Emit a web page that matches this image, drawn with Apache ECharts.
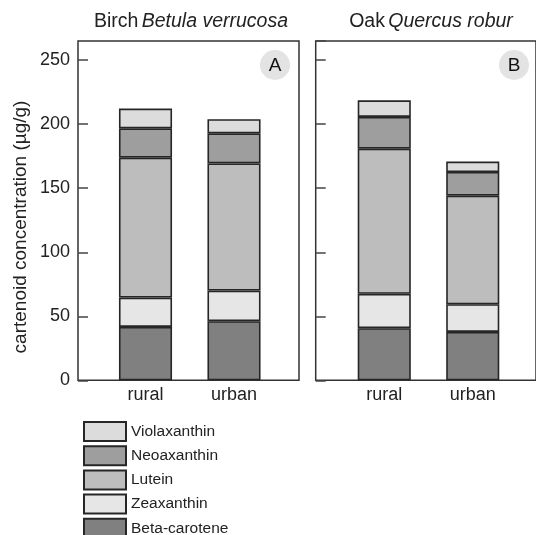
<!DOCTYPE html>
<html>
<head>
<meta charset="utf-8">
<script src="https://cdn.jsdelivr.net/npm/echarts@6/dist/echarts.min.js"></script>
<style>
  html, body { margin: 0; padding: 0; background: #fff; }
  #chart { width: 536px; height: 535px; }
</style>
</head>
<body>
<div id="chart"></div>
<script>
  // categories + values (µg/g)
  var categories = ['rural', 'urban'];
  var pigments = ['Beta-carotene', 'Zeaxanthin', 'Lutein', 'Neoaxanthin', 'Violaxanthin'];
  var legendOrder = ['Violaxanthin', 'Neoaxanthin', 'Lutein', 'Zeaxanthin', 'Beta-carotene'];

  // panel A - birch
  var betaA = [41.7, 46.2];
  var zeaA = [22.9, 23.9];
  var luteinA = [109.3, 99.3];
  var neoA = [22.9, 23.5];
  var violaA = [15.4, 11.0];
  // panel B - oak
  var betaB = [40.7, 37.8];
  var zeaB = [26.8, 21.6];
  var luteinB = [113.4, 84.8];
  var neoB = [24.8, 18.5];
  var violaB = [13.0, 8.1];

  var yMin = 0, yMax = 265, yStep = 50;

  var colors = {
    'Beta-carotene': '#808080',
    'Zeaxanthin': '#e6e6e6',
    'Lutein': '#bdbdbd',
    'Neoaxanthin': '#9e9e9e',
    'Violaxanthin': '#dcdcdc'
  };

  var font = '"Liberation Sans", Arial, sans-serif';
  var chart = echarts.init(document.getElementById('chart'));

  var plotTop = 41, plotH = 339.3;

  function frameY(idx, withLabels) {
    return {
      gridIndex: idx, type: 'value', min: yMin, max: yMax, interval: yStep,
      axisLine: { show: false },
      splitLine: { show: false },
      axisTick: { show: true, inside: true, length: 10, lineStyle: { color: '#444', width: 1.5 } },
      axisLabel: {
        show: withLabels, showMaxLabel: false, margin: 8,
        fontFamily: font, fontSize: 18, color: '#222'
      }
    };
  }
  function barY(idx) {
    return { gridIndex: idx, type: 'value', min: yMin, max: yMax, show: false };
  }
  function frameX(idx) {
    return { gridIndex: idx, type: 'value', min: 0, max: 1, show: false };
  }
  function barX(idx) {
    return {
      gridIndex: idx, type: 'category', data: categories,
      axisLine: { show: false }, axisTick: { show: false },
      axisLabel: { margin: 6, fontFamily: font, fontSize: 18, color: '#222' }
    };
  }

  var seriesA = [betaA, zeaA, luteinA, neoA, violaA];
  var seriesB = [betaB, zeaB, luteinB, neoB, violaB];
  var series = [];
  function addSeries(list, stack, axisIdx) {
    list.forEach(function (vals, i) {
      series.push({
        name: pigments[i], type: 'bar', stack: stack,
        xAxisIndex: axisIdx, yAxisIndex: axisIdx,
        barWidth: '60%', data: vals,
        itemStyle: { color: colors[pigments[i]], borderColor: '#262626', borderWidth: 1.6 },
        emphasis: { disabled: true }
      });
    });
  }
  addSeries(seriesA, 'A', 1);
  addSeries(seriesB, 'B', 3);

  var titleRich = {
    n: { fontFamily: font, fontSize: 19.5, fill: '#222' },
    i: { fontFamily: font, fontSize: 19.5, fontStyle: 'italic', fill: '#222' }
  };

  chart.setOption({
    backgroundColor: '#fff',
    animation: false,
    grid: [
      { left: 78, top: plotTop, width: 221, height: plotH, show: true, borderColor: '#333', borderWidth: 1.5, backgroundColor: 'transparent' },
      { left: 101.25, top: plotTop, width: 177, height: plotH },
      { left: 315.7, top: plotTop, width: 222, height: plotH, show: true, borderColor: '#333', borderWidth: 1.5, backgroundColor: 'transparent' },
      { left: 340, top: plotTop, width: 177, height: plotH }
    ],
    xAxis: [frameX(0), barX(1), frameX(2), barX(3)],
    yAxis: [frameY(0, true), barY(1), frameY(2, false), barY(3)],
    legend: {
      orient: 'vertical', left: 83, top: 421, height: 130, padding: 0,
      itemWidth: 42, itemHeight: 19, itemGap: 3.2,
      icon: 'rect', data: legendOrder,
      textStyle: { fontFamily: font, fontSize: 15.5, color: '#222' },
      selectedMode: false
    },
    graphic: [
      {
        type: 'text', x: 191, y: 22,
        style: { text: '{n|Birch} {i|Betula verrucosa}', align: 'center', verticalAlign: 'middle', rich: titleRich }
      },
      {
        type: 'text', x: 431, y: 22,
        style: { text: '{n|Oak} {i|Quercus robur}', align: 'center', verticalAlign: 'middle', rich: titleRich }
      },
      {
        type: 'text', x: 21, y: 227, rotation: Math.PI / 2,
        style: {
          text: 'cartenoid concentration (µg/g)', align: 'center', verticalAlign: 'middle',
          fontFamily: font, fontSize: 19, fill: '#222'
        }
      },
      { type: 'circle', shape: { cx: 275, cy: 65, r: 15 }, style: { fill: '#e3e3e3' } },
      { type: 'text', x: 275, y: 66, style: { text: 'A', align: 'center', verticalAlign: 'middle', fontFamily: font, fontSize: 19, fill: '#111' } },
      { type: 'circle', shape: { cx: 514, cy: 65, r: 15 }, style: { fill: '#e3e3e3' } },
      { type: 'text', x: 514, y: 66, style: { text: 'B', align: 'center', verticalAlign: 'middle', fontFamily: font, fontSize: 19, fill: '#111' } }
    ],
    series: series
  });
</script>
</body>
</html>
